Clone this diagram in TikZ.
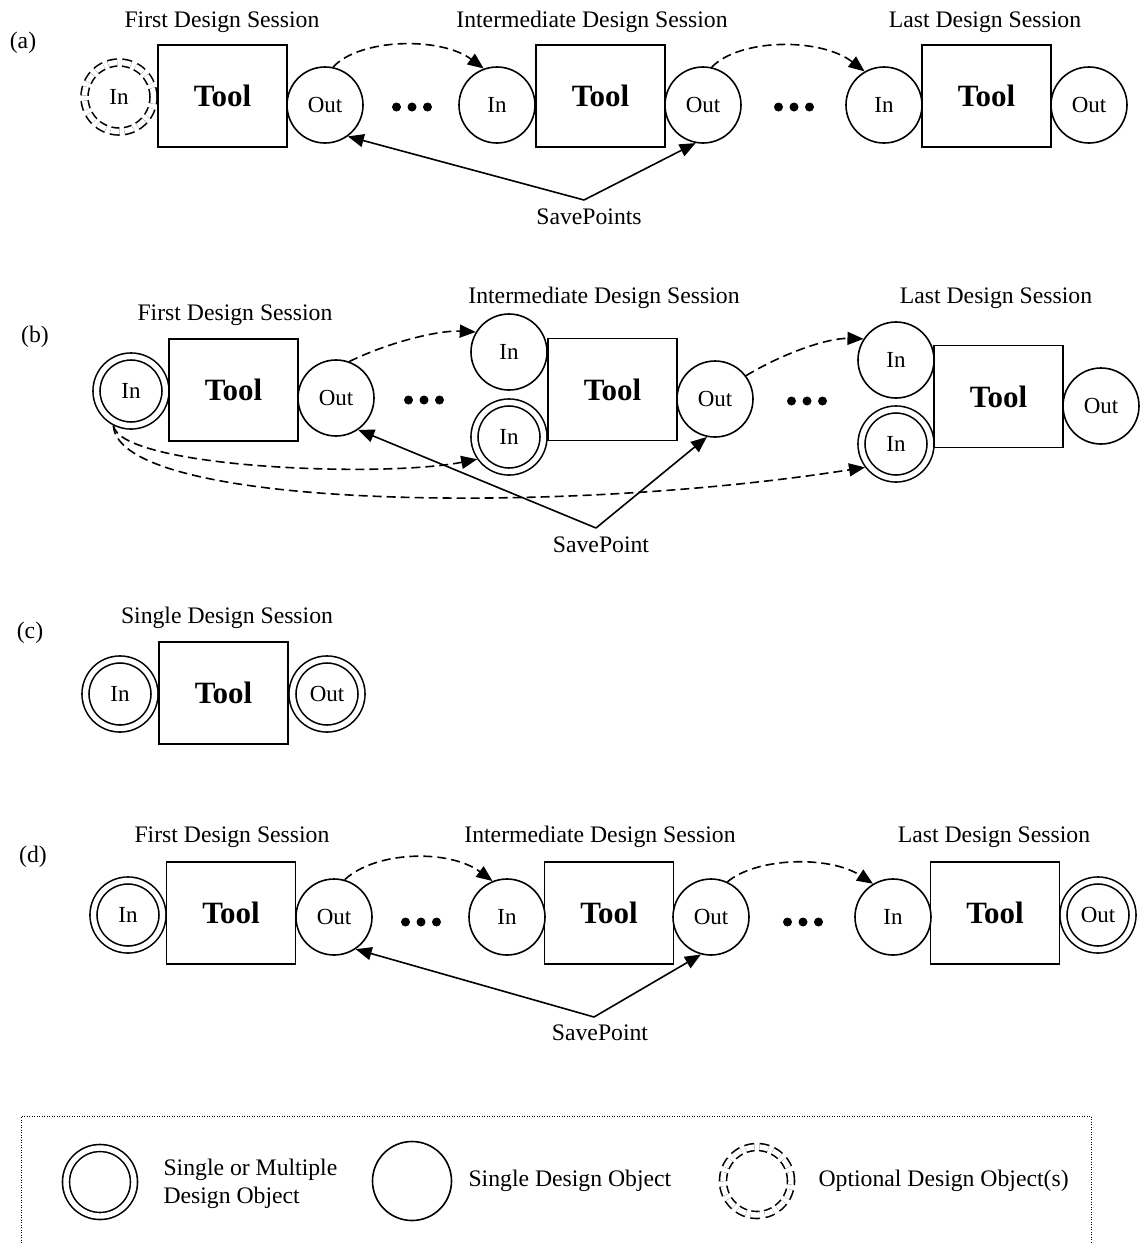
\documentclass[tikz,border=0pt]{standalone}
\usepackage{fontspec}
\setmainfont{Liberation Serif}
\usetikzlibrary{arrows.meta,calc}

\begin{document}
\begin{tikzpicture}[x=1pt,y=-1pt,
  every node/.style={font=\fontsize{23.7}{28}\selectfont},
  obj/.style={circle, draw, line width=1.6pt, minimum size=76pt, inner sep=0pt,
    outer sep=0.8pt, font=\fontsize{23}{27}\selectfont},
  multi/.style={circle, draw, line width=1.6pt, double, double distance=5.4pt,
    minimum size=69pt, inner sep=0pt, outer sep=4.3pt, font=\fontsize{23}{27}\selectfont},
  opt/.style={multi, dash pattern=on 9pt off 5pt},
  toolbox/.style={draw, line width=1.6pt, minimum width=129pt, minimum height=102pt,
    inner sep=0pt, font=\bfseries\fontsize{31}{36}\selectfont},
  flow/.style={line width=1.6pt, dash pattern=on 9pt off 5pt,
    -{Triangle[length=16pt,width=13pt]}},
  save/.style={line width=1.6pt, -{Triangle[length=16pt,width=13pt]}},
  legendline/.style={line width=1pt, dash pattern=on 1pt off 1.5pt},
]
\useasboundingbox (0,0) rectangle (1140,1243);

% ellipsis between sessions
\newcommand{\ellip}[2]{\fill (#1-15.5,#2) circle[radius=4.5pt] (#1,#2) circle[radius=4.5pt] (#1+15.5,#2) circle[radius=4.5pt];}

% ---------------- (a) ----------------
\node (la) at (23,43) {(a)};
\node (ta1) at (222,22) {First Design Session};
\node (ta2) at (592,22) {Intermediate Design Session};
\node (ta3) at (985,22) {Last Design Session};

\node[opt] (ai1) at (119,97) {In};
\node[toolbox] (at1) at (222.5,96) {Tool};
\node[obj] (ao1) at (325,105) {Out};
\ellip{412}{107}
\node[obj] (ai2) at (497,105) {In};
\node[toolbox] (at2) at (600.5,96) {Tool};
\node[obj] (ao2) at (703,105) {Out};
\ellip{794}{107}
\node[obj] (ai3) at (884,105) {In};
\node[toolbox] (at3) at (986.5,96) {Tool};
\node[obj] (ao3) at (1089,105) {Out};

\node (sa) at (589,217) {SavePoints};
\coordinate (sa0) at (584,200);

\draw[flow] (ao1.78) .. controls ($(ao1.78)+(27,-29)$) and ($(ai2.110)+(-43,-32)$) .. (ai2.110);
\draw[flow] (ao2.77) .. controls ($(ao2.77)+(28,-29)$) and ($(ai3.120)+(-44,-34)$) .. (ai3.120);
\draw[save] (sa0) -- (ao1.-54);
\draw[save] (sa0) -- (ao2.-101);

% ---------------- (b) ----------------
\node (lb) at (35,337) {(b)};
\node (tb1) at (235,315) {First Design Session};
\node (tb2) at (604,298) {Intermediate Design Session};
\node (tb3) at (996,298) {Last Design Session};

\node[multi] (bi1) at (131,391) {In};
\node[toolbox] (bt1) at (233.5,390) {Tool};
\node[obj] (bo1) at (336,398) {Out};
\ellip{424}{400}
\node[obj] (bi2) at (509,352) {In};
\node[multi] (bi2m) at (509,437) {In};
\node[toolbox] (bt2) at (612.5,389.5) {Tool};
\node[obj] (bo2) at (715,399) {Out};
\ellip{807}{401}
\node[obj] (bi3) at (896,360) {In};
\node[multi] (bi3m) at (896,444) {In};
\node[toolbox] (bt3) at (998.5,396.5) {Tool};
\node[obj] (bo3) at (1101,406) {Out};

\node (sb) at (601,545) {SavePoint};
\coordinate (sb0) at (596,528);

\draw[flow] (bo1.70) .. controls ($(bo1.70)+(41,-20)$) and ($(bi2.149)+(-36,-2)$) .. (bi2.149);
\draw[flow] (bo2.37) .. controls ($(bo2.37)+(40,-24)$) and ($(bi3.147)+(-34,-1)$) .. (bi3.147);
\draw[flow] (bi1.-117) .. controls ($(bi1.-117)+(7,42)$) and ($(bi2m.-145)+(-97,19)$) .. (bi2m.-145);
\draw[flow] (bi1.-117) .. controls ($(bi1.-117)+(5,84)$) and ($(bi3m.-143)+(-305,48)$) .. (bi3m.-143);
\draw[save] (sb0) -- (bo1.-55);
\draw[save] (sb0) -- (bo2.-102);

% ---------------- (c) ----------------
\node (lc) at (30,633) {(c)};
\node (tc) at (227,618) {Single Design Session};
\node[multi] (ci) at (120,694) {In};
\node[toolbox] (ct) at (223.5,693) {Tool};
\node[multi] (co) at (327,694) {Out};

% ---------------- (d) ----------------
\node (ld) at (33,857) {(d)};
\node (td1) at (232,837) {First Design Session};
\node (td2) at (600,837) {Intermediate Design Session};
\node (td3) at (994,837) {Last Design Session};

\node[multi] (di1) at (128,915) {In};
\node[toolbox] (dt1) at (231,913) {Tool};
\node[obj] (do1) at (334,917) {Out};
\ellip{421}{922}
\node[obj] (di2) at (507,917) {In};
\node[toolbox] (dt2) at (609,913) {Tool};
\node[obj] (do2) at (711,917) {Out};
\ellip{803}{922}
\node[obj] (di3) at (893,917) {In};
\node[toolbox] (dt3) at (995,913) {Tool};
\node[multi] (do3) at (1098,915) {Out};

\node (sd) at (600,1033) {SavePoint};
\coordinate (sd0) at (594,1017);

\draw[flow] (do1.74) .. controls ($(do1.74)+(31,-29)$) and ($(di2.112)+(-43,-32)$) .. (di2.112);
\draw[flow] (do2.65) .. controls ($(do2.65)+(30,-25)$) and ($(di3.121)+(-43,-28)$) .. (di3.121);
\draw[save] (sd0) -- (do1.-56);
\draw[save] (sd0) -- (do2.-105);

% ---------------- legend ----------------
\draw[legendline] (21,1243) -- (21,1116) -- (1091,1116) -- (1091,1243);
\node[multi, minimum size=68pt] (lg1) at (100,1182) {};
\node[anchor=west, align=left] (lt1) at (160,1184) {Single or Multiple\\Design Object};
\node[obj, minimum size=79pt] (lg2) at (412,1181) {};
\node[anchor=west] (lt2) at (465,1181) {Single Design Object};
\node[opt, minimum size=68pt] (lg3) at (757,1181) {};
\node[anchor=west] (lt3) at (815,1181) {Optional Design Object(s)};

\end{tikzpicture}
\end{document}
